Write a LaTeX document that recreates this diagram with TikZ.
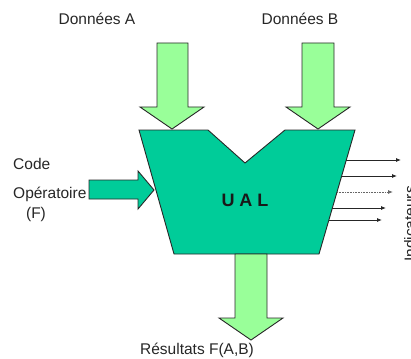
\documentclass[tikz,border=0pt]{standalone}
\usepackage{fontspec}
\setmainfont{Liberation Sans}
\usetikzlibrary{arrows.meta}
\definecolor{ualgreen}{RGB}{0,204,153}
\definecolor{flowgreen}{RGB}{153,255,153}
\definecolor{edgegray}{RGB}{40,40,40}
\begin{document}
\begin{tikzpicture}[x=1pt,y=-1pt,
  outline/.style={draw=edgegray, line width=0.9pt, line join=miter},
  unit/.style={outline, fill=ualgreen},
  flow/.style={outline, fill=flowgreen},
  label/.style={font=\fontsize{15.5}{18}\selectfont, text=black!85, inner sep=0pt},
  flag/.style={draw=black!85, line width=0.8pt, -{Latex[length=5pt,width=4pt]}},
  flagdot/.style={flag, dash pattern=on 1pt off 0.6pt, draw=black!60}]
\useasboundingbox (0,0) rectangle (411,358);

% arithmetic and logic unit body
\draw[unit] (139,130) -- (208,130) -- (245,163) -- (285,130) -- (355,130)
  -- (319,254) -- (174,254) -- cycle;
\node[font=\bfseries\fontsize{18}{20}\selectfont, text=black!90] (ual) at (245,200) {U A L};

% operand A input
\draw[flow] (157,43) -- (188,43) -- (188,107) -- (204,107) -- (172,129)
  -- (140,107) -- (157,107) -- cycle;
\node[label] (dataA) at (97,19) {Données A};

% operand B input
\draw[flow] (302,43) -- (334,43) -- (334,107) -- (350,107) -- (318,129)
  -- (286,107) -- (302,107) -- cycle;
\node[label] (dataB) at (300,19) {Données B};

% operation code input
\draw[unit] (89,180) -- (138,180) -- (138,171) -- (154,190) -- (138,209)
  -- (138,199) -- (89,199) -- cycle;
\node[label, anchor=west] (code) at (13,164) {Code};
\node[label, anchor=west] (oper) at (13,194) {Opératoire};
\node[label] (func) at (36,214) {(F)};

% result output
\draw[flow] (235,254) -- (267,254) -- (267,318) -- (283,318) -- (251,340)
  -- (219,318) -- (235,318) -- cycle;
\node[label] (res) at (197,350) {Résultats F(A,B)};

% status flag outputs
\coordinate (f1) at (346,160); \coordinate (g1) at (401,160);
\coordinate (f2) at (342,176); \coordinate (g2) at (397,176);
\coordinate (f3) at (337,192); \coordinate (g3) at (393,192);
\coordinate (f4) at (332,208); \coordinate (g4) at (386,208);
\coordinate (f5) at (329,220); \coordinate (g5) at (382,220);
\draw[flag] (f1) -- (g1);
\draw[flag] (f2) -- (g2);
\draw[flagdot] (f3) -- (g3);
\draw[flag] (f4) -- (g4);
\draw[flag] (f5) -- (g5);
\node[label, rotate=90, anchor=north] (ind) at (404,224) {Indicateurs};
\end{tikzpicture}
\end{document}
